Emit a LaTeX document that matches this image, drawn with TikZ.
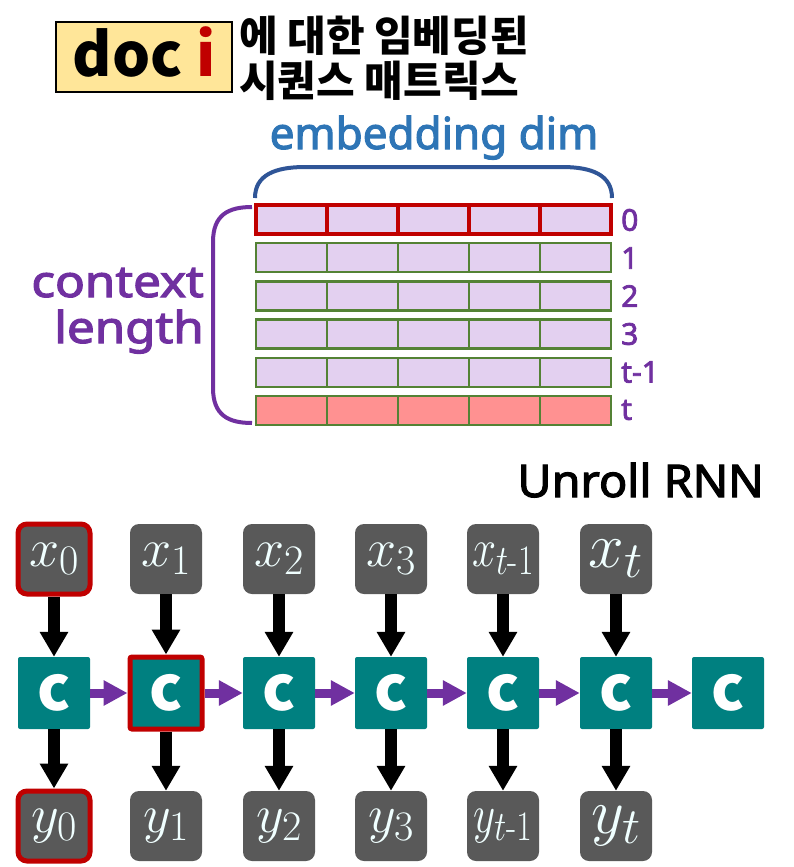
\RequirePackage{fix-cm}
\documentclass[tikz,border=0pt]{standalone}
\usepackage{fontspec}
\usepackage{amsmath}
\usetikzlibrary{arrows.meta}
\newfontfamily\kr{Noto Sans CJK KR}
\newfontfamily\latm[FakeBold=2.5]{Noto Sans}
\DeclareMathSizes{54}{54}{42}{33}
\DeclareMathSizes{64}{64}{51}{40}
\definecolor{docfill}{HTML}{FFE699}
\definecolor{hred}{HTML}{C00000}
\definecolor{embblue}{HTML}{2E75B6}
\definecolor{bracebl}{HTML}{2F5597}
\definecolor{lav}{HTML}{E3D0F0}
\definecolor{grn}{HTML}{548235}
\definecolor{salmon}{HTML}{FF9191}
\definecolor{purp}{HTML}{7030A0}
\definecolor{gbox}{HTML}{595959}
\definecolor{tealc}{HTML}{008080}
\definecolor{mathc}{HTML}{F0FFFF}
\begin{document}
\begin{tikzpicture}[x=1pt,y=-1pt,
  inbox/.style={fill=gbox, rounded corners=9pt, minimum width=72pt, minimum height=70pt, inner sep=0pt, text=mathc, font=\fontsize{54}{54}\selectfont},
  bigm/.style={font=\fontsize{64}{64}\selectfont},
  cbox/.style={fill=tealc, rounded corners=2pt, minimum width=72pt, minimum height=72pt, inner sep=0pt, text=white, font=\kr\bfseries\fontsize{62}{62}\selectfont},
  hl/.style={draw=hred, line width=5pt},
  down/.style={-{Triangle[length=25pt,width=27pt]}, line width=12pt, draw=black},
  side/.style={-{Triangle[length=24pt,width=24pt]}, line width=9pt, draw=purp},
  rowlab/.style={anchor=west, text=purp, inner sep=0pt, font=\latm\fontsize{30}{30}\selectfont},
  cell/.style={draw=grn, line width=2.5pt},
]
\useasboundingbox (0,0) rectangle (793,867);

% header
\node[draw=black, line width=2pt, fill=docfill, minimum width=176pt, minimum height=70pt, inner sep=0pt] (doc) at (144,57) {};
\node[anchor=base, inner sep=0pt, font=\kr\bfseries\fontsize{60}{60}\selectfont] (doct) at (144,77) {doc \textcolor{hred}{i}};
\node[anchor=north west, align=left, inner sep=0pt, font=\kr\bfseries\fontsize{42}{45}\selectfont] (title) at (239,16) {에 대한 임베딩된\\시퀀스 매트릭스};

\node[anchor=base, text=embblue, inner sep=0pt, font=\latm\fontsize{44}{44}\selectfont] (emb) at (434,149) {embedding dim};
\node[text=purp, align=right, anchor=base east, inner sep=0pt, font=\latm\fontsize{44}{46}\selectfont] (ctx) at (204,343) {\scalebox{1.12}[1]{context}\\\scalebox{1.12}[1]{length}};

% braces
\draw[bracebl, line width=4pt] (255,198) .. controls (255,175) and (275,167) .. (305,167) -- (562,167) .. controls (592,167) and (612,175) .. (612,198);
\draw[purp, line width=4pt] (252,207) .. controls (228,207) and (213,215) .. (213,242) -- (213,388) .. controls (213,415) and (228,423) .. (252,423);

% grid
\foreach \r in {0,...,4}
  \foreach \c in {0,...,4}
    \draw[cell, fill=lav] ({256+71*\c},{205+38.2*\r}) rectangle ++(71,29);
\foreach \c in {0,...,4}
  \draw[cell, fill=salmon] ({256+71*\c},{205+38.2*5}) rectangle ++(71,29);
\foreach \c in {0,...,4}
  \draw[draw=hred, line width=4pt] ({256+71*\c},205) rectangle ++(71,29);

\node[rowlab] (r0) at (621,220) {0};
\node[rowlab] (r1) at (621,258) {1};
\node[rowlab] (r2) at (621,296) {2};
\node[rowlab] (r3) at (621,334) {3};
\node[rowlab] (r4) at (621,372) {t-1};
\node[rowlab] (r5) at (621,410) {t};

\node[anchor=base east, inner sep=0pt, font=\latm\fontsize{45}{45}\selectfont] (unroll) at (764,497) {\scalebox{1.04}[1]{Unroll RNN}};

% RNN
\node[inbox, hl] (x0) at (54,559) {$x_0$};
\node[inbox] (x1) at (166,559) {$x_1$};
\node[inbox] (x2) at (279,559) {$x_2$};
\node[inbox] (x3) at (391,559) {$x_3$};
\node[inbox] (x4) at (503,559) {\scalebox{0.8}[1]{$x_{t\text{-}1}$}};
\node[inbox, bigm] (x5) at (616,559) {$x_t$};

\node[cbox] (c0) at (54,693) {c};
\node[cbox, hl] (c1) at (166,693) {c};
\node[cbox] (c2) at (279,693) {c};
\node[cbox] (c3) at (391,693) {c};
\node[cbox] (c4) at (503,693) {c};
\node[cbox] (c5) at (616,693) {c};
\node[cbox] (c6) at (728,693) {c};

\node[inbox, hl] (y0) at (54,826) {$y_0$};
\node[inbox] (y1) at (166,826) {$y_1$};
\node[inbox] (y2) at (279,826) {$y_2$};
\node[inbox] (y3) at (391,826) {$y_3$};
\node[inbox] (y4) at (503,826) {\scalebox{0.8}[1]{$y_{t\text{-}1}$}};
\node[inbox, bigm] (y5) at (616,826) {$y_t$};

\foreach \i in {0,...,5} {
  \draw[down] (x\i) -- (c\i);
  \draw[down] (c\i) -- (y\i);
}
\foreach \i/\j in {0/1,1/2,2/3,3/4,4/5,5/6}
  \draw[side] (c\i) -- (c\j);
\end{tikzpicture}
\end{document}
